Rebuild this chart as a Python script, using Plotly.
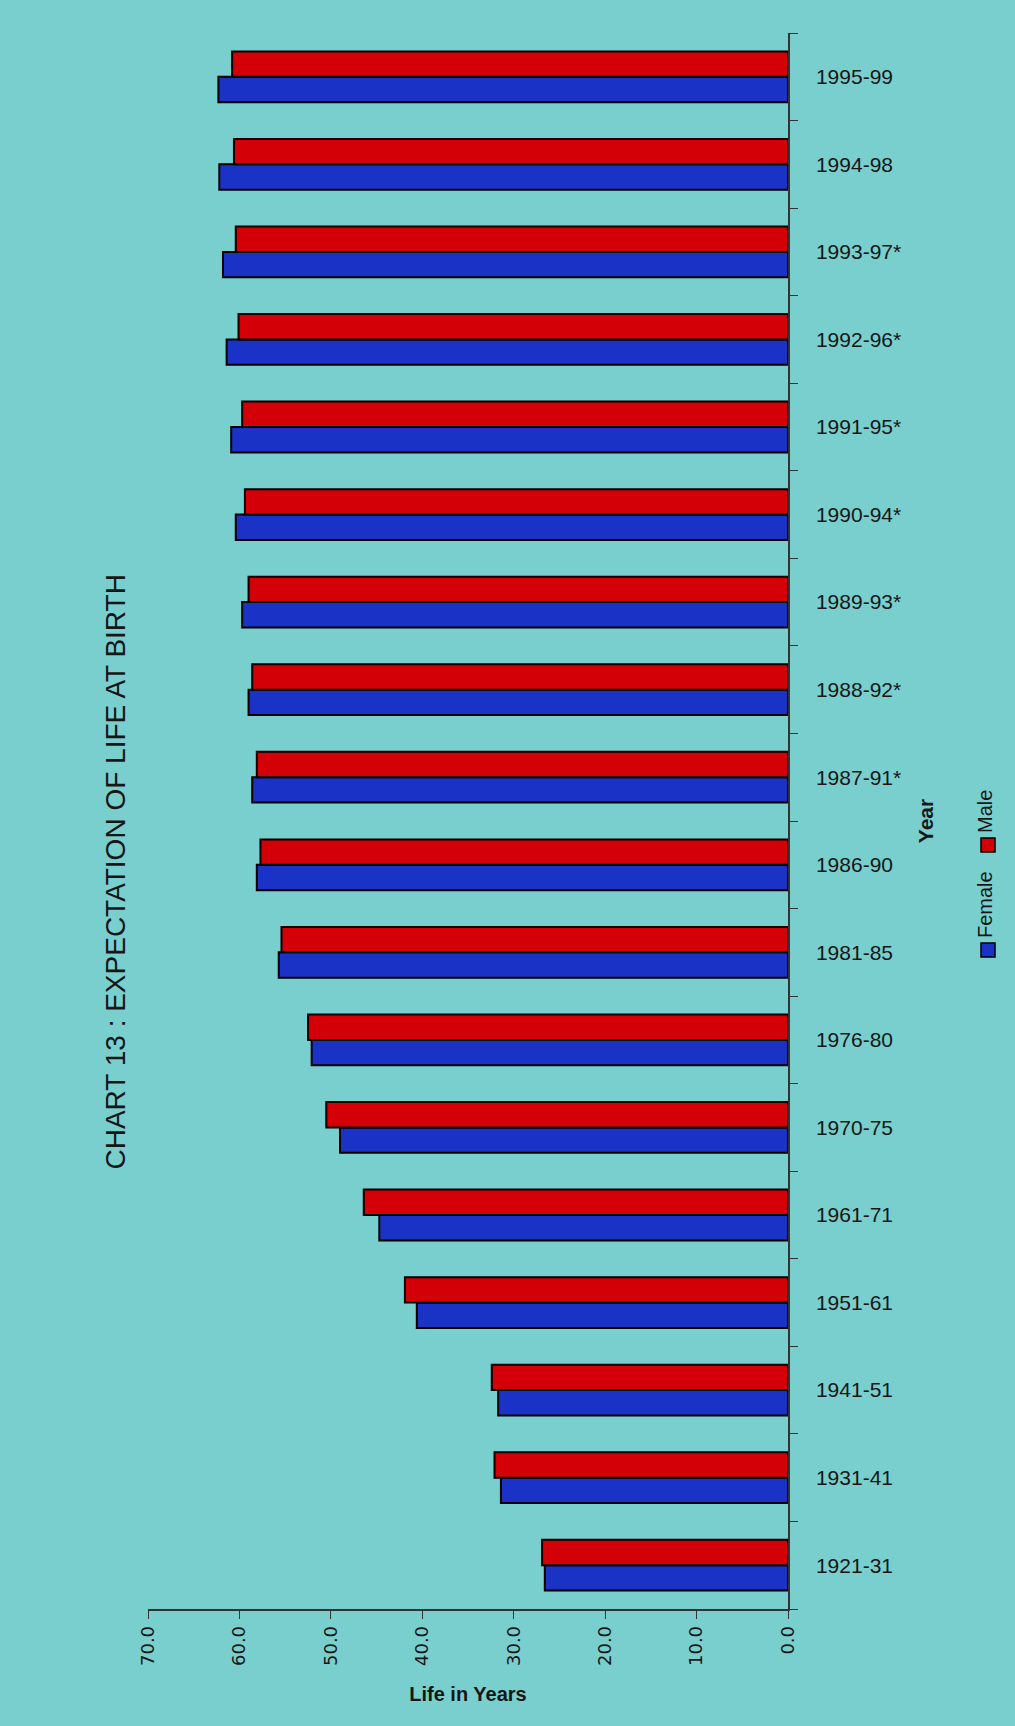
import plotly.graph_objects as go

# Periods, oldest first (plotted bottom to top)
periods = ["1921-31", "1931-41", "1941-51", "1951-61", "1961-71", "1970-75",
           "1976-80", "1981-85", "1986-90", "1987-91*", "1988-92*", "1989-93*",
           "1990-94*", "1991-95*", "1992-96*", "1993-97*", "1994-98", "1995-99"]

# Expectation of life at birth, years
male = [26.9, 32.1, 32.4, 41.9, 46.4, 50.5, 52.5, 55.4, 57.7, 58.1, 58.6, 59.0,
        59.4, 59.7, 60.1, 60.4, 60.6, 60.8]
female = [26.6, 31.4, 31.7, 40.6, 44.7, 49.0, 52.1, 55.7, 58.1, 58.6, 59.0, 59.7,
          60.4, 60.9, 61.4, 61.8, 62.2, 62.3]

x_ticks = [0, 10, 20, 30, 40, 50, 60, 70]

BG = "#79cfcd"
RED = "#d40008"
BLUE = "#1b32c6"
INK = "#161616"

W, H = 1015, 1726
L, R, T, B = 148, 227, 33, 117
PW, PH = W - L - R, H - T - B


def px(x):
    return (x - L) / PW


def py(y):
    return 1 - (y - T) / PH


fig = go.Figure()
fig.add_trace(go.Bar(y=periods, x=female, name="Female", orientation="h",
                     marker=dict(color=BLUE, line=dict(color="#000000", width=2))))
fig.add_trace(go.Bar(y=periods, x=male, name="Male", orientation="h",
                     marker=dict(color=RED, line=dict(color="#000000", width=2))))

fig.update_layout(
    width=W, height=H,
    margin=dict(l=L, r=R, t=T, b=B),
    paper_bgcolor=BG, plot_bgcolor=BG,
    barmode="group", bargap=0.42, bargroupgap=0,
    showlegend=False,
    font=dict(family="Liberation Sans, Arial, sans-serif", color=INK),
)

fig.update_xaxes(
    range=[70, 0], tickvals=x_ticks, tickformat=".1f",
    tickangle=-90, ticks="outside", ticklen=8, tickcolor="#333",
    tickfont=dict(family="DejaVu Sans, sans-serif", size=18, color=INK),
    showline=True, linecolor="#333", linewidth=1.5,
    showgrid=False, zeroline=False,
    title=dict(text="<b>Life in Years</b>", standoff=22,
               font=dict(size=20, color=INK)),
)

fig.update_yaxes(
    type="category", categoryorder="array", categoryarray=periods,
    side="right", ticks="outside", tickson="boundaries", ticklen=8,
    tickcolor="#333", ticklabelstandoff=22,
    tickfont=dict(size=21, color=INK),
    showline=True, linecolor="#333", linewidth=1.5,
    showgrid=False, zeroline=False,
    title=dict(text="<b>Year</b>", standoff=18, font=dict(size=21, color=INK)),
)

# Vertical chart title
fig.add_annotation(
    text="CHART 13 : EXPECTATION OF LIFE AT BIRTH",
    xref="paper", yref="paper", x=px(97), y=py(872),
    textangle=-90, showarrow=False,
    font=dict(size=28, color=INK),
)

# Rotated legend: swatches and labels
legend_items = [("Female", BLUE, 957, 905), ("Male", RED, 852, 812)]
for name, color, sq_bottom, text_center in legend_items:
    fig.add_shape(type="rect", xref="paper", yref="paper",
                  x0=px(981), x1=px(995), y0=py(sq_bottom), y1=py(sq_bottom - 14),
                  fillcolor=color, line=dict(color="#000", width=1.5))
    fig.add_annotation(text=name, xref="paper", yref="paper",
                       x=px(998), y=py(text_center), textangle=-90,
                       showarrow=False, font=dict(size=20, color=INK))

fig.write_html("out.html")
